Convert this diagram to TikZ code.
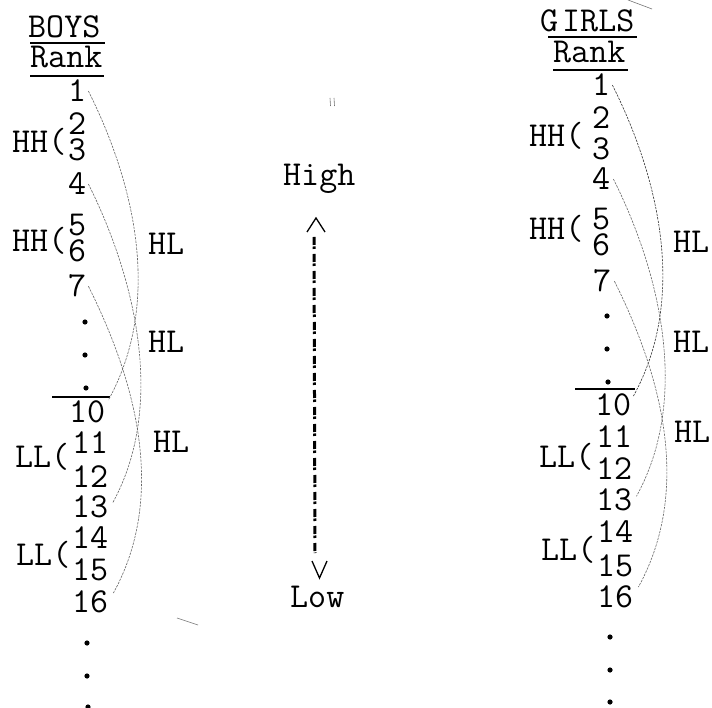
\documentclass[tikz,border=0pt]{standalone}
\usepackage{fontspec}
\usetikzlibrary{calc}
\begin{document}
\begin{tikzpicture}[x=1pt,y=-1pt,
  txt/.style={font=\ttfamily\fontsize{35}{35}\selectfont, inner sep=0pt, anchor=base west},
  rule/.style={line width=1.8pt},
  link/.style={draw=black!60, line width=0.6pt, dash pattern=on 2.4pt off 1.1pt},
  dotmark/.style={fill=black, draw=none},
  chev/.style={line width=1.3pt, line join=miter},
  updash/.style={line width=3pt, dash pattern=on 8pt off 1.5pt on 2.5pt off 5pt},
  speck/.style={draw=black!55, line width=0.6pt}]
\useasboundingbox[fill=white] (0,0) rectangle (712,708);

% ---------------- boys column ----------------
\node[txt] (bhead) at (28,38) {BOYS};
\node[txt] (brank) at (30,68) {Rank};
\draw[rule] ($(bhead.base west)+(2,5)$) -- ($(bhead.base east)+(4,5)$);
\draw[rule] ($(brank.base west)+(0,8)$) -- ($(brank.base east)+(1,8)$);

\node[txt] (b1) at (68,102) {1};
\node[txt] (b2) at (68,135) {2};
\node[txt] (b3) at (68,161) {3};
\node[txt] (b4) at (68,195) {4};
\node[txt] (b5) at (68,236) {5};
\node[txt] (b6) at (68,262) {6};
\node[txt] (b7) at (68,297) {7};
\fill[dotmark] (85,322) circle (2.6) (85,355) circle (2.6) (86,388) circle (2.6);
\draw[rule] (52,397) -- (110,397);
\node[txt] (b10) at (69,422) {10};
\node[txt] (b11) at (72,453) {11};
\node[txt] (b12) at (72,487) {12};
\node[txt] (b13) at (72,517) {13};
\node[txt] (b14) at (72,548) {14};
\node[txt] (b15) at (72,580) {15};
\node[txt] (b16) at (72,612) {16};
\fill[dotmark] (87,643) circle (2.6) (87,676) circle (2.6) (88,707) circle (2.6);

\node[txt] (bhh1) at (12,153) {HH(};
\node[txt] (bhh2) at (12,252) {HH(};
\node[txt] (bll1) at (15,467) {LL(};
\node[txt] (bll2) at (16,565) {LL(};

\node[txt] (bhl1) at (148,255) {HL};
\node[txt] (bhl2) at (148,353) {HL};
\node[txt] (bhl3) at (153,452) {HL};

\draw[link] ([xshift=2pt]b1.east) .. controls +(45,90) and +(55,-100) .. ([xshift=3pt]b10.north east);
\draw[link] ([xshift=2pt]b4.east) .. controls +(45,90) and +(55,-100) .. ([xshift=4pt,yshift=3pt]b13.east);
\draw[link] ([xshift=2pt]b7.east) .. controls +(45,90) and +(55,-100) .. ([xshift=5pt,yshift=-3pt]b16.north east);

% ---------------- girls column ----------------
\node[txt] (ghead) at (540,32) {G\kern4pt IRLS};
\node[txt] (grank) at (553,63) {Rank};
\draw[rule] ($(ghead.base west)+(8,5)$) -- ($(ghead.base east)+(2,5)$);
\draw[rule] ($(grank.base west)+(0,7)$) -- ($(grank.base east)+(2,7)$);

\node[txt] (g1) at (592,96) {1};
\node[txt] (g2) at (592,129) {2};
\node[txt] (g3) at (592,160) {3};
\node[txt] (g4) at (592,190) {4};
\node[txt] (g5) at (592,230) {5};
\node[txt] (g6) at (592,256) {6};
\node[txt] (g7) at (593,292) {7};
\fill[dotmark] (607,316) circle (2.6) (607,349) circle (2.6) (608,382) circle (2.6);
\draw[rule] (575,389) -- (635,389);
\node[txt] (g10) at (595,415) {10};
\node[txt] (g11) at (596,447) {11};
\node[txt] (g12) at (596,479) {12};
\node[txt] (g13) at (596,510) {13};
\node[txt] (g14) at (597,542) {14};
\node[txt] (g15) at (597,576) {15};
\node[txt] (g16) at (597,607) {16};
\fill[dotmark] (610,637) circle (2.6) (610,670) circle (2.6) (610,702) circle (2.6);

\node[txt] (ghh1) at (529,147) {HH(};
\node[txt] (ghh2) at (529,240) {HH(};
\node[txt] (gll1) at (539,467) {LL(};
\node[txt] (gll2) at (541,560) {LL(};

\node[txt] (ghl1) at (673,253) {HL};
\node[txt] (ghl2) at (673,353) {HL};
\node[txt] (ghl3) at (674,442) {HL};

\draw[link, draw=black!80] ([xshift=2pt]g1.east) .. controls +(45,90) and +(55,-100) .. ([xshift=2pt,yshift=-3pt]g10.north east);
\draw[link] ([xshift=3pt]g4.east) .. controls +(45,90) and +(55,-100) .. ([xshift=4pt,yshift=3pt]g13.east);
\draw[link] ([xshift=3pt]g7.east) .. controls +(45,90) and +(55,-100) .. ([xshift=5pt,yshift=-2pt]g16.north east);

% ---------------- high / low scale ----------------
\node[txt] (high) at (283,186) {High};
\node[txt] (low) at (290,607) {Low};
\coordinate (up) at (316,218);
\coordinate (dn) at (319.5,578);
\draw[chev] ($(up)+(-9,14)$) -- (up) -- ($(up)+(9,14)$);
\draw[chev] ($(dn)+(-7.5,-17)$) -- (dn) -- ($(dn)+(7.5,-17)$);
\draw[updash] ($(up)+(-2,19)$) -- ($(dn)+(-4.5,-25)$);

% stray pencil marks
\draw[speck] (330,98) -- (330.5,106) (334,98) -- (334.5,106);
\draw[speck] (177,618) -- (198,625);
\draw[speck] (628,0) -- (652,9);
\end{tikzpicture}
\end{document}
